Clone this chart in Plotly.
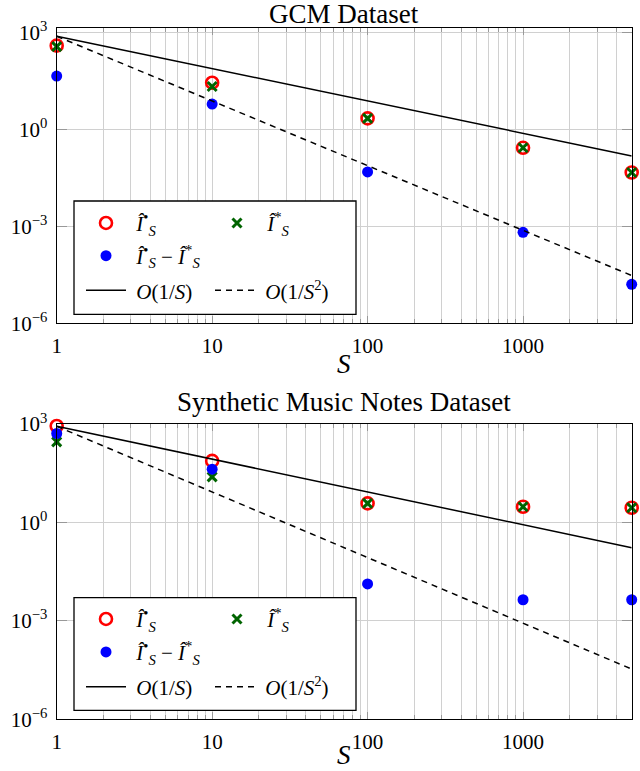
import plotly.graph_objects as go

# --- data (log-log axes) ---
S = [1, 10, 100, 1000, 5000]
S_REF = [1, 5000]

# GCM Dataset
gcm_bullet = [385, 27.5, 2.17, 0.267, 0.046]
gcm_star = [358, 21.0, 2.17, 0.267, 0.046]
gcm_diff = [44, 6.0, 0.048, 6.5e-4, 1.6e-5]
gcm_o1 = [750, 0.15]
gcm_o2 = [750, 3.0e-5]

# Synthetic Music Notes Dataset
syn_bullet = [870, 75, 3.8, 3.0, 2.8]
syn_star = [285, 24.5, 3.8, 3.0, 2.8]
syn_diff = [513, 42, 0.0134, 0.0044, 0.0044]
syn_o1 = [850, 0.17]
syn_o2 = [850, 3.4e-5]

TITLES = ["GCM Dataset", "Synthetic Music Notes Dataset"]

X_TICKS = [1, 10, 100, 1000]
X_LABELS = ["1", "10", "100", "1000"]
X_MINOR = [m * 10**e for e in range(4) for m in range(2, 10) if m * 10**e <= 5000]
Y_TICKS = [1e-6, 1e-3, 1, 1e3]
Y_LABELS = ["10<sup>−6</sup>", "10<sup>−3</sup>", "10<sup>0</sup>", "10<sup>3</sup>"]

LEG_NAMES = [
    "\u00a0<i>Î</i><sup>•</sup><sub><i>S</i></sub>",
    "\u00a0<i>Î</i><sup>*</sup><sub><i>S</i></sub>",
    "\u00a0<i>Î</i><sup>•</sup><sub><i>S</i></sub> − <i>Î</i><sup>*</sup><sub><i>S</i></sub>",
    "\u00a0<i>O</i>(1/<i>S</i>)",
    "\u00a0<i>O</i>(1/<i>S</i><sup>2</sup>)",
]

# --- layout geometry (pixels) ---
W, H = 640, 771
FONT = "Liberation Serif, Times New Roman, serif"
X_L, X_R = 56.7, 631.7
PANELS = [
    dict(top=27.7, bottom=323.3, yr=[-6, 3.14], title_y=13.5, s_y=364,
         box=(74, 201, 356, 314.3), rows=(223.3, 256, 290.7)),
    dict(top=424, bottom=719.3, yr=[-6, 3.0], title_y=401.7, s_y=755,
         box=(74, 597.7, 356, 710.3), rows=(619.3, 652.3, 687)),
]

def px(x):
    return x / W

def py(y):
    return 1 - y / H

fig = go.Figure()
layout = dict(width=W, height=H, margin=dict(l=0, r=0, t=0, b=0),
              plot_bgcolor="white", paper_bgcolor="white",
              font=dict(family=FONT, size=21, color="black"),
              annotations=[], shapes=[])

datasets = [
    (gcm_bullet, gcm_star, gcm_diff, gcm_o1, gcm_o2),
    (syn_bullet, syn_star, syn_diff, syn_o1, syn_o2),
]

leg_i = 0
for p, (bullet, star, diff, o1, o2) in enumerate(datasets):
    geo = PANELS[p]
    xa = "x" if p == 0 else "x2"
    ya = "y" if p == 0 else "y2"
    r1, r2, r3 = geo["rows"]
    # legend item (x of item left, y of row)
    leg_pos = [(81, r1), (212, r1), (81, r2), (81, r3), (210, r3)]

    traces = [
        go.Scatter(x=S, y=bullet, mode="markers",
                   marker=dict(symbol="circle-open", size=12, color="#ff0000",
                               line=dict(width=2.6, color="#ff0000"))),
        go.Scatter(x=S, y=star, mode="markers",
                   marker=dict(symbol="x-thin-open", size=9, color="#006400",
                               line=dict(width=3, color="#006400"))),
        go.Scatter(x=S, y=diff, mode="markers",
                   marker=dict(symbol="circle", size=11, color="#0000ff")),
        go.Scatter(x=S_REF, y=o1, mode="lines",
                   line=dict(color="black", width=1.5)),
        go.Scatter(x=S_REF, y=o2, mode="lines",
                   line=dict(color="black", width=1.5, dash="6px,5px")),
    ]
    for k, tr in enumerate(traces):
        leg_i += 1
        key = "legend" if leg_i == 1 else f"legend{leg_i}"
        tr.update(xaxis=xa, yaxis=ya, name=LEG_NAMES[k], legend=key,
                  showlegend=True, cliponaxis=False)
        fig.add_trace(tr)
        lx, ly = leg_pos[k]
        layout[key] = dict(x=px(lx), y=py(ly), xanchor="left", yanchor="middle",
                           orientation="h", bgcolor="rgba(0,0,0,0)", borderwidth=0,
                           itemwidth=40, font=dict(family=FONT, size=21, color="black"))

    axis_common = dict(showline=True, linecolor="black", linewidth=1.3, mirror="ticks",
                       ticks="inside", tickcolor="#999999", showgrid=True,
                       gridcolor="#d0d0d0", gridwidth=1, zeroline=False,
                       automargin=False,
                       tickfont=dict(family=FONT, size=21, color="black"))
    xkey = "xaxis" if p == 0 else "xaxis2"
    ykey = "yaxis" if p == 0 else "yaxis2"
    layout[xkey] = dict(axis_common, type="log", range=[0, 3.699],
                        domain=[px(X_L), px(X_R)], anchor=ya,
                        tickmode="array", tickvals=X_TICKS, ticktext=X_LABELS,
                        ticklen=7, ticklabelstandoff=3,
                        minor=dict(tickmode="array", tickvals=X_MINOR, ticks="inside",
                                   ticklen=4, tickcolor="#999999", showgrid=True,
                                   gridcolor="#d0d0d0", gridwidth=1))
    layout[ykey] = dict(axis_common, type="log", range=geo["yr"],
                        domain=[py(geo["bottom"]), py(geo["top"])], anchor=xa,
                        tickmode="array", tickvals=Y_TICKS, ticktext=Y_LABELS,
                        ticklen=10, ticklabelstandoff=4)

    cx = px((X_L + X_R) / 2)
    layout["annotations"].append(dict(text=TITLES[p], x=cx, y=py(geo["title_y"]),
                                      xref="paper", yref="paper", showarrow=False,
                                      xanchor="center", yanchor="middle",
                                      font=dict(family=FONT, size=27)))
    layout["annotations"].append(dict(text="<i>S</i>", x=cx, y=py(geo["s_y"]),
                                      xref="paper", yref="paper", showarrow=False,
                                      xanchor="center", yanchor="middle",
                                      font=dict(family=FONT, size=27)))
    bx0, by0, bx1, by1 = geo["box"]
    layout["shapes"].append(dict(type="rect", xref="paper", yref="paper",
                                 x0=px(bx0), x1=px(bx1), y0=py(by1), y1=py(by0),
                                 line=dict(color="black", width=1.3),
                                 fillcolor="white", layer="above"))

fig.update_layout(**layout)
# drop the default 8px page margin so the figure sits at the window's corner
fig.write_html("out.html", config={"displayModeBar": False},
               post_script="document.body.style.margin='0px';")
